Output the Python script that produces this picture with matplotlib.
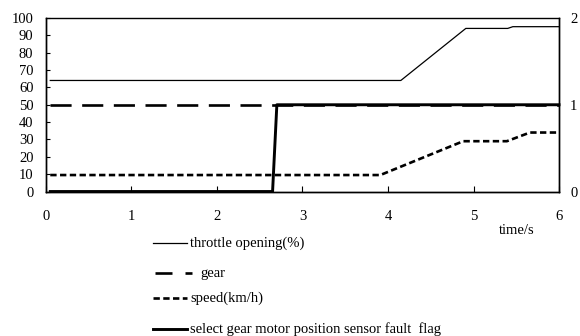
import matplotlib
matplotlib.use("Agg")
import matplotlib.pyplot as plt
from matplotlib.lines import Line2D

plt.rcParams['font.family'] = ['Liberation Serif', 'DejaVu Serif']
plt.rcParams['font.size'] = 10.5

# time series (s)
throttle_t = [0.05, 4.15, 4.91, 5.40, 5.46, 6.0]
throttle_v = [64, 64, 94, 94, 95, 95]

gear_t = [0.05, 6.0]
gear_v = [50, 50]

speed_t = [0.05, 3.91, 4.88, 5.39, 5.66, 6.0]
speed_v = [9.5, 9.5, 29, 29, 34, 34]

flag_t = [0.05, 2.65, 2.70, 6.0]
flag_v = [0, 0, 1, 1]

x_ticks = [0, 1, 2, 3, 4, 5, 6]
left_ticks = [0, 10, 20, 30, 40, 50, 60, 70, 80, 90, 100]
right_ticks = [0, 1, 2]

labels = ["throttle opening(%)", "gear", "speed(km/h)",
          "select gear motor position sensor fault  flag"]

fig = plt.figure(figsize=(5.8, 3.36), dpi=100)
ax = fig.add_axes([0.0793, 0.430, 0.8845, 0.5164])
ax2 = ax.twinx()

styles = [
    dict(color='black', lw=0.9, ls='-'),
    dict(color='black', lw=1.9, ls=(0, (8, 4))),
    dict(color='black', lw=1.9, ls=(0, (2.4, 1.3))),
    dict(color='black', lw=2.1, ls='-'),
]

ax.plot(throttle_t, throttle_v, **styles[0])
ax.plot(gear_t, gear_v, **styles[1])
ax.plot(speed_t, speed_v, **styles[2])
ax2.plot(flag_t, flag_v, clip_on=False, **styles[3])

ax.set_xlim(0, 6)
ax.set_ylim(0, 100)
ax2.set_ylim(0, 2)
ax.set_xticks(x_ticks)
ax.set_yticks(left_ticks)
ax2.set_yticks(right_ticks)

ax.tick_params(axis='x', direction='in', length=4, width=0.8, pad=13)
ax.tick_params(axis='y', direction='in', length=3, width=0.8, pad=9)
ax2.tick_params(axis='y', length=0, pad=8)
for a in (ax, ax2):
    for s in a.spines.values():
        s.set_linewidth(1.0)
ax2.spines['top'].set_visible(False)

fig.text(517 / 580, 1 - 230 / 336, "time/s", ha='center', va='center')

# legend drawn as rows below the axes
rows = [
    (243, 153, 187, 190, styles[0]),
    (273, 155, 192, 200, dict(styles[1], ls=(0, (6.44, 4.93, 2.65, 10)))),
    (298, 153, 187, 190, styles[2]),
    (329, 153, 187, 190, styles[3]),
]
for (y, x0, x1, tx, st), lab in zip(rows, labels):
    yy = 1 - y / 336
    fig.add_artist(Line2D([x0 / 580, x1 / 580], [yy, yy],
                          transform=fig.transFigure, **st))
    fig.text(tx / 580, yy, lab, ha='left', va='center')

fig.savefig("out.png", dpi=100)
